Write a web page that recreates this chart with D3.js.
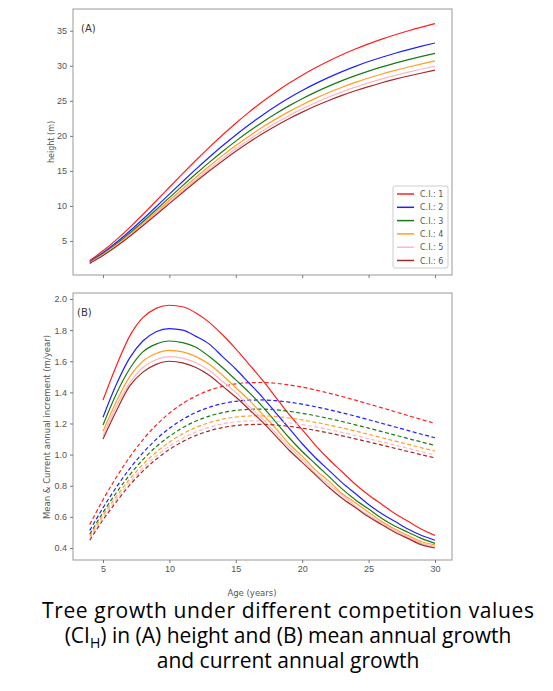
<!DOCTYPE html>
<html><head><meta charset="utf-8">
<script src="https://cdn.jsdelivr.net/npm/d3@7"></script>
<style>body{margin:0;background:#fff}svg{font-family:"DejaVu Sans",sans-serif}</style>
</head><body>
<svg id="c" width="553" height="691"></svg>
<script>
// current annual increment (m/year), ages 5..30
var ages = d3.range(5, 31);
var ci1 = [1.35,1.57,1.76,1.88,1.94,1.96,1.95,1.91,1.85,1.77,1.68,1.58,1.48,1.37,1.26,1.16,1.06,0.97,0.89,0.81,0.74,0.68,0.62,0.57,0.52,0.48];
var ci2 = [1.24,1.45,1.62,1.73,1.79,1.81,1.80,1.76,1.71,1.63,1.55,1.46,1.37,1.27,1.17,1.07,0.98,0.90,0.82,0.75,0.68,0.62,0.57,0.52,0.48,0.45];
var ci3 = [1.19,1.39,1.55,1.66,1.71,1.73,1.72,1.69,1.63,1.56,1.48,1.40,1.31,1.21,1.11,1.02,0.94,0.86,0.78,0.71,0.65,0.59,0.54,0.50,0.46,0.43];
var ci4 = [1.15,1.34,1.50,1.60,1.65,1.67,1.66,1.63,1.58,1.51,1.43,1.35,1.26,1.17,1.07,0.99,0.90,0.83,0.75,0.69,0.63,0.57,0.52,0.48,0.44,0.42];
var ci5 = [1.12,1.31,1.46,1.56,1.61,1.63,1.62,1.59,1.54,1.47,1.40,1.31,1.23,1.14,1.05,0.97,0.88,0.81,0.74,0.67,0.61,0.56,0.51,0.47,0.43,0.41];
var ci6 = [1.10,1.28,1.44,1.53,1.58,1.60,1.59,1.56,1.51,1.44,1.37,1.29,1.21,1.12,1.03,0.95,0.87,0.79,0.72,0.66,0.60,0.55,0.50,0.46,0.42,0.40];
// height at age 4 (m)
var h4 = [2.2, 2.05, 1.95, 1.9, 1.85, 1.8];
var labels = ["C.I.: 1","C.I.: 2","C.I.: 3","C.I.: 4","C.I.: 5","C.I.: 6"];
var colors = ["#ff2020","#2020ff","#1a7a1a","#ffa020","#ffb6c1","#a52a2a"];
var incs = [ci1,ci2,ci3,ci4,ci5,ci6];

var series = incs.map(function(inc, i){
  var h = [{age:4, v:h4[i]}];
  inc.forEach(function(d, j){ h.push({age:ages[j], v:h[j].v + d}); });
  return {
    height: h,
    mean: h.map(function(p){ return {age:p.age, v:p.v/p.age}; }),
    cur: inc.map(function(d, j){ return {age:ages[j], v:d}; })
  };
});

var svg = d3.select("#c");
var tc = "#555";

function frame(top, bottom, ydom, yticks, showX){
  var x = d3.scaleLinear().domain([5,30]).range([103,435]);
  var y = d3.scaleLinear().domain(ydom).range([bottom, top]);
  var g = svg.append("g");
  g.append("rect").attr("x",73).attr("y",top).attr("width",379).attr("height",bottom-top)
    .attr("fill","none").attr("stroke","#999").attr("stroke-width",1);
  var ya = g.append("g").attr("transform","translate(73,0)")
    .call(d3.axisLeft(y).tickValues(yticks).tickSize(3).tickFormat(ydom[1] > 5 ? d3.format("d") : d3.format(".1f")));
  var xa = g.append("g").attr("transform","translate(0,"+bottom+")")
    .call(d3.axisBottom(x).tickValues([5,10,15,20,25,30]).tickSize(3).tickFormat(showX ? d3.format("d") : ""));
  [ya, xa].forEach(function(a){
    a.select(".domain").remove();
    a.selectAll("line").attr("stroke","#777");
    a.selectAll("text").attr("fill",tc).style("font-size","9px");
  });
  return {x:x, y:y, g:g};
}

// panel A
var A = frame(9, 275, [0.14, 38.1], [5,10,15,20,25,30,35], false);
var lineA = d3.line().x(function(d){return A.x(d.age);}).y(function(d){return A.y(d.v);}).curve(d3.curveBasis);
series.forEach(function(s, i){
  A.g.append("path").attr("d", lineA(s.height)).attr("fill","none").attr("stroke",colors[i]).attr("stroke-width",1.2);
});
A.g.append("text").attr("x",81).attr("y",32).text("(A)").attr("fill","#333").style("font-size","10px");
svg.append("text").attr("transform","translate(54,142) rotate(-90)").attr("text-anchor","middle")
  .text("height (m)").attr("fill",tc).style("font-size","8px");

var leg = A.g.append("g");
leg.append("rect").attr("x",393).attr("y",186).attr("width",55).attr("height",82)
  .attr("fill","#fff").attr("stroke","#ccc").attr("rx",2);
labels.forEach(function(l, i){
  var yy = 194 + i*13.3;
  leg.append("line").attr("x1",397).attr("x2",414).attr("y1",yy).attr("y2",yy).attr("stroke",colors[i]).attr("stroke-width",1.5);
  leg.append("text").attr("x",420).attr("y",yy+3).text(l).attr("fill",tc).style("font-size","8px");
});

// panel B
var B = frame(293, 560, [0.4 - (560-548)/155.5, 2.0 + (299-293)/155.5], [0.4,0.6,0.8,1.0,1.2,1.4,1.6,1.8,2.0], true);
var lineB = d3.line().x(function(d){return B.x(d.age);}).y(function(d){return B.y(d.v);}).curve(d3.curveMonotoneX);
series.forEach(function(s, i){
  B.g.append("path").attr("d", lineB(s.mean)).attr("fill","none").attr("stroke",colors[i]).attr("stroke-width",1.2).attr("stroke-dasharray","4,2.5");
  B.g.append("path").attr("d", lineB(s.cur)).attr("fill","none").attr("stroke",colors[i]).attr("stroke-width",1.2);
});
B.g.append("text").attr("x",77).attr("y",316).text("(B)").attr("fill","#333").style("font-size","10px");
svg.append("text").attr("transform","translate(50,427) rotate(-90)").attr("text-anchor","middle")
  .text("Mean & Current annual increment (m/year)").attr("fill",tc).style("font-size","8.5px");
svg.append("text").attr("x",252).attr("y",596).attr("text-anchor","middle")
  .text("Age (years)").attr("fill",tc).style("font-size","8.5px");

// caption
var cap = svg.append("g").style("font-family","'Open Sans',sans-serif").style("font-size","21px").attr("fill","#000");
cap.append("text").attr("x",288).attr("y",618).attr("text-anchor","middle").attr("textLength",492).text("Tree growth under different competition values");
var l2 = cap.append("text").attr("x",288).attr("y",643).attr("text-anchor","middle");
l2.append("tspan").text("(CI");
l2.append("tspan").attr("dy",5).style("font-size","14px").text("H");
l2.append("tspan").attr("dy",-5).text(") in (A) height and (B) mean annual growth");
cap.append("text").attr("x",288).attr("y",668).attr("text-anchor","middle").text("and current annual growth");
</script>
</body></html>
